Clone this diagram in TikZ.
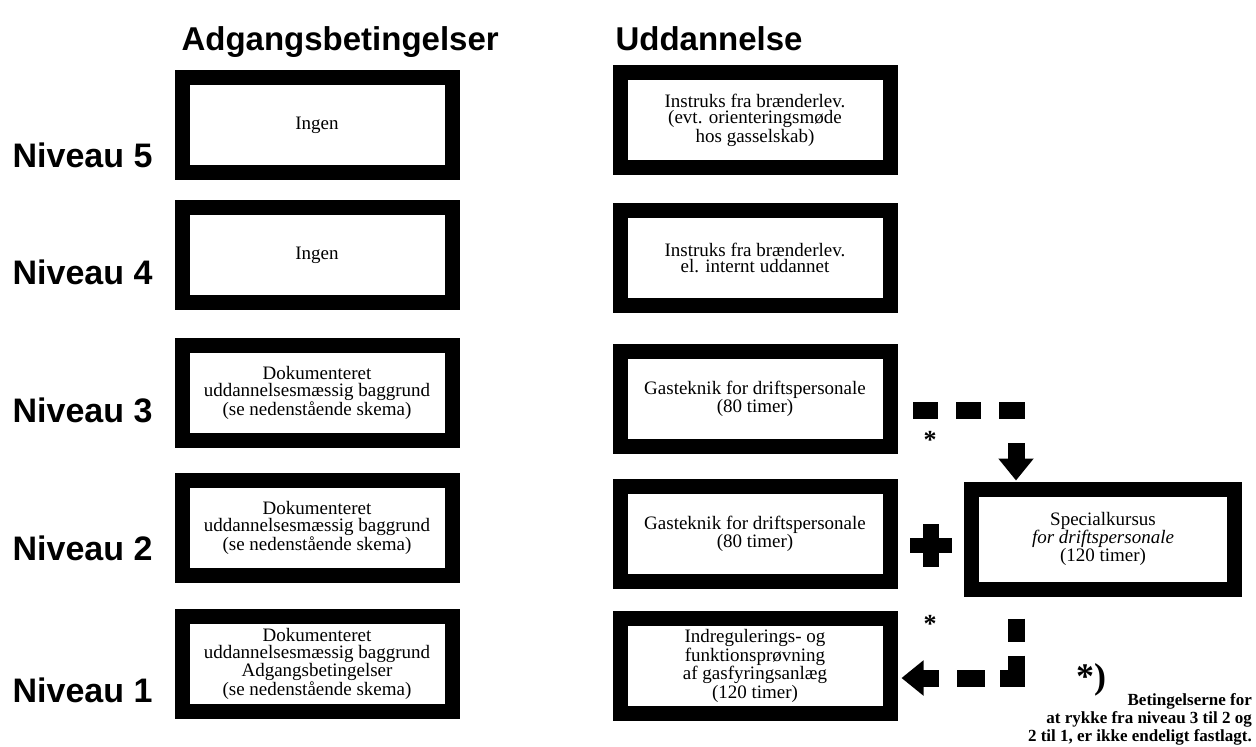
\documentclass[tikz,border=0pt]{standalone}
\usepackage{fontspec}
\setmainfont{Liberation Serif}
\newfontfamily\headfont{Liberation Sans}
\usetikzlibrary{arrows.meta,positioning}

\begin{document}
\begin{tikzpicture}[x=1pt,y=-1pt,
	box/.style={draw, line width=15pt, minimum width=270pt, minimum height=95pt, align=center, inner sep=0pt, font=\fontsize{19}{16.7}\selectfont},
	head/.style={font=\headfont\bfseries\fontsize{33}{33}\selectfont, anchor=base west},
	level/.style={font=\headfont\bfseries\fontsize{34}{34}\selectfont, anchor=east},
	dashconn/.style={line width=17pt, -{Triangle[width=34pt,length=22pt]}},
	star/.style={font=\bfseries\fontsize{26}{26}\selectfont, inner sep=0pt},
	note/.style={font=\bfseries\fontsize{17}{18}\selectfont, align=right, inner sep=0pt}]
	\useasboundingbox (0,0) rectangle (1256,747);
	\node[head] (hadg) at (178,50) {Adgangsbetingelser};
	\node[head] (hudd) at (612,50) {Uddannelse};
	\node[level] (n5) at (156,155) {Niveau 5};
	\node[level] (n4) at (156,272) {Niveau 4};
	\node[level] (n3) at (156,410) {Niveau 3};
	\node[level] (n2) at (156,548) {Niveau 2};
	\node[level] (n1) at (156,690) {Niveau 1};
	\node[box] (a5) at (317,125) {Ingen};
	\node[box] (a4) at (317,255) {Ingen};
	\node[box] (a3) at (317,393) {Dokumenteret\\uddannelsesmæssig baggrund\\(se nedenstående skema)};
	\node[box] (a2) at (317,528) {Dokumenteret\\uddannelsesmæssig baggrund\\(se nedenstående skema)};
	\node[box] (a1) at (317,664) {Dokumenteret\\uddannelsesmæssig baggrund\\Adgangsbetingelser\\(se nedenstående skema)};
	\node[box] (u5) at (755,120) {Instruks fra brænderlev.\\(evt. orienteringsmøde\\hos gasselskab)};
	\node[box] (u4) at (755,258) {Instruks fra brænderlev.\\el. internt uddannet};
	\node[box] (u3) at (755,399) {Gasteknik for driftspersonale\\(80 timer)};
	\node[box] (u2) at (755,534) {Gasteknik for driftspersonale\\(80 timer)};
	\node[box] (u1) at (755,666) {Indregulerings- og\\funktionsprøvning\\af gasfyringsanlæg\\(120 timer)};
	\node[box, minimum width=263pt, minimum height=100pt] (sp) at (1103,539) {Specialkursus\\\textit{for driftspersonale}\\(120 timer)};
	\coordinate (d3) at (913,410);
	\draw[dashconn, dash pattern=on 25pt off 18pt on 25pt off 18pt on 25.5pt off 24.5pt on 40pt off 10pt, shorten >=1pt] (d3) -| ([xshift=-87pt]sp.north);
	\draw[dashconn, dash pattern=on 23pt off 14pt on 39pt off 15pt on 28pt off 18pt on 40pt off 10pt, shorten <=22pt, shorten >=4pt] ([xshift=-87pt]sp.south) |- ([yshift=-12pt]u1.east);
	\fill (923,524) rectangle (939,567);
	\fill (910,538) rectangle (952,553);
	\node[star] (s3) at (930,440) {*};
	\node[star] (s1) at (930,624) {*};
	\node[font=\bfseries\fontsize{36}{36}\selectfont, inner sep=0pt] (fn) at (1091,680) {*)};
	\node[note, anchor=north east] (fnt) at (1252,693) {Betingelserne for\\at rykke fra niveau 3 til 2 og\\2 til 1, er ikke endeligt fastlagt.};
\end{tikzpicture}
\end{document}
